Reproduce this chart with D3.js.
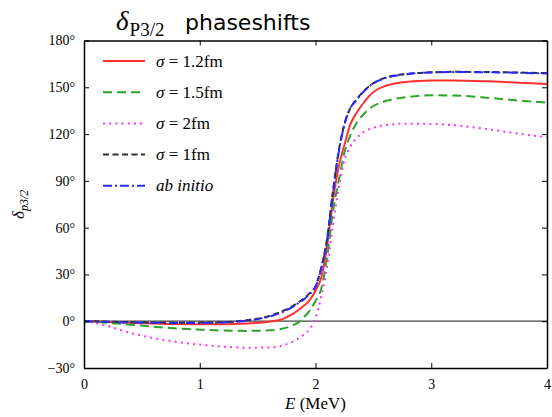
<!DOCTYPE html>
<html>
<head>
<meta charset="utf-8">
<script src="https://cdn.jsdelivr.net/npm/d3@7"></script>
<style>
  html, body { margin: 0; padding: 0; background: #fff; }
  svg { display: block; }
</style>
</head>
<body>
<svg id="chart" width="552" height="417"></svg>
<script>
// Energy grid (MeV)
const energy = [0, 0.1, 0.2, 0.4, 0.6, 0.8, 1.0, 1.2, 1.4, 1.6, 1.7, 1.8, 1.85, 1.9, 1.95, 2.0,
                2.05, 2.1, 2.15, 2.2, 2.25, 2.3, 2.35, 2.4, 2.5, 2.6, 2.8, 3.0, 3.2, 3.5, 3.8, 4.0];

// Phase shifts in degrees for each smearing width
const sigma12 = [0, -0.2, -0.5, -1.0, -1.5, -1.8, -2.0, -2.0, -1.5, -0.3, 0.9, 4.5, 7, 10, 13.5, 19.5,
                 28, 48, 77, 99, 113, 126, 133, 138.5, 147, 150.8, 153.6, 154.3, 154.4, 153.8, 152.8, 152.1];
const sigma15 = [0, -0.4, -1.0, -2.2, -3.5, -4.6, -5.4, -6.0, -6.2, -5.8, -5.0, -2.8, -0.9, 2.5, 6.8, 13,
                 21, 41, 70, 90, 108, 119, 126.5, 131.5, 138, 141, 143.8, 144.9, 144.7, 143.2, 141.2, 140.2];
const sigma2  = [0, -1.2, -3.0, -7.5, -10.8, -13.3, -15.0, -16.3, -17.0, -16.8, -15.9, -13.2, -11.2, -8.5, -5, 2,
                 16, 35, 61, 85, 103, 112, 117, 120.5, 124, 125.8, 126.7, 126.5, 125.6, 123, 119.8, 118];
const sigma1  = [0, -0.1, -0.3, -0.6, -0.8, -0.9, -0.9, -0.6, 0.6, 3.3, 6.0, 9.5, 12, 14.5, 18, 22.5,
                 34.5, 53, 83, 109, 126.5, 136.5, 141.8, 146.3, 152.6, 156, 158.6, 159.6, 159.9, 159.8, 159.4, 159.1];
const abInitio = [0, -0.2, -0.4, -0.8, -1.0, -1.1, -1.1, -0.8, 0.3, 3.0, 5.5, 9.0, 11.5, 14, 17.5, 22,
                  34, 52, 82, 108, 126, 136.5, 141.5, 146, 152.5, 155.8, 158.5, 159.5, 159.8, 159.6, 159.2, 158.8];

const seriesNames = ["σ = 1.2fm", "σ = 1.5fm", "σ = 2fm", "σ = 1fm", "ab initio"];
const seriesValues = [sigma12, sigma15, sigma2, sigma1, abInitio];

const xTicks = [0, 1, 2, 3, 4];
const yTicks = [-30, 0, 30, 60, 90, 120, 150, 180];

const styles = [
  { color: "#ff3030", dash: null },
  { color: "#2aa52a", dash: "9,5" },
  { color: "#ff30ff", dash: "2,4.2" },
  { color: "#303030", dash: "6,3.5" },
  { color: "#2a2aff", dash: "9,3,2,3" }
];

const SERIF = "'Liberation Serif', 'Times New Roman', serif";
const SANS = "'DejaVu Sans', sans-serif";

const svg = d3.select("#chart");
const margin = { left: 84, right: 5, top: 40.5, bottom: 49 };
const W = 552, H = 417;

const x = d3.scaleLinear().domain([0, 4]).range([margin.left, W - margin.right]);
const y = d3.scaleLinear().domain([-30, 180]).range([H - margin.bottom, margin.top]);

// Zero reference line
svg.append("line")
  .attr("x1", x(0)).attr("x2", x(4))
  .attr("y1", y(0)).attr("y2", y(0))
  .attr("stroke", "#444").attr("stroke-width", 1.2);

// Curves
const line = d3.line().x(d => x(d[0])).y(d => y(d[1])).curve(d3.curveMonotoneX);
seriesValues.forEach((vals, i) => {
  const pts = energy.map((e, j) => [e, vals[j]]);
  svg.append("path")
    .datum(pts)
    .attr("d", line)
    .attr("fill", "none")
    .attr("stroke", styles[i].color)
    .attr("stroke-width", 2)
    .attr("stroke-dasharray", styles[i].dash);
});

// Axes with inward ticks on all four sides
const fmtDeg = d => (d < 0 ? "\u2212" + Math.abs(d) : d) + "°";

const xBottom = svg.append("g").attr("transform", `translate(0,${y(-30)})`)
  .call(d3.axisBottom(x).tickValues(xTicks).tickFormat(d => d).tickSizeInner(-5).tickSizeOuter(0).tickPadding(11));
const yLeft = svg.append("g").attr("transform", `translate(${x(0)},0)`)
  .call(d3.axisLeft(y).tickValues(yTicks).tickFormat(fmtDeg).tickSizeInner(-5).tickSizeOuter(0).tickPadding(9));
const xTop = svg.append("g").attr("transform", `translate(0,${y(180)})`)
  .call(d3.axisTop(x).tickValues(xTicks).tickFormat("").tickSizeInner(-5).tickSizeOuter(0));
const yRight = svg.append("g").attr("transform", `translate(${x(4)},0)`)
  .call(d3.axisRight(y).tickValues(yTicks).tickFormat("").tickSizeInner(-5).tickSizeOuter(0));

[xBottom, yLeft, xTop, yRight].forEach(g => {
  g.attr("font-family", SERIF).attr("font-size", 14);
  g.select(".domain").attr("stroke", "#000").attr("stroke-width", 1.5);
  g.selectAll(".tick line").attr("stroke", "#000").attr("stroke-width", 1);
  g.selectAll(".tick text").attr("fill", "#000").style("font-family", SERIF).style("font-size", "14px");
});

// Legend
const legend = svg.append("g");
seriesNames.forEach((name, i) => {
  const ly = 61 + i * 31.2;
  legend.append("line")
    .attr("x1", 103).attr("x2", 145).attr("y1", ly).attr("y2", ly)
    .attr("stroke", styles[i].color).attr("stroke-width", 2)
    .attr("stroke-dasharray", styles[i].dash);
  const t = legend.append("text")
    .attr("x", 156).attr("y", ly + 5.5)
    .style("font-family", SERIF)
    .style("font-size", "17px");
  if (name.startsWith("σ")) {
    t.append("tspan").style("font-style", "italic").text("σ");
    t.append("tspan").text(name.slice(1));
  } else {
    t.style("font-style", "italic").text(name);
  }
});

// Title
const title = svg.append("text").attr("x", 116).attr("y", 30);
title.append("tspan").style("font-family", SERIF).style("font-style", "italic")
  .style("font-size", "27px").text("δ");
title.append("tspan").style("font-family", SERIF).style("font-size", "19px")
  .attr("dy", 6).attr("dx", 1).text("P3/2");
title.append("tspan").style("font-family", SANS).style("font-size", "22px")
  .attr("dy", -6).attr("x", 185).text("phaseshifts");

// Axis labels
const xl = svg.append("text").attr("x", x(2)).attr("y", 409).attr("text-anchor", "middle")
  .style("font-family", SERIF).style("font-size", "17px");
xl.append("tspan").style("font-style", "italic").text("E");
xl.append("tspan").text(" (MeV)");

const yl = svg.append("text").attr("transform", `translate(24,${y(75)}) rotate(-90)`)
  .attr("text-anchor", "middle")
  .style("font-family", SERIF).style("font-style", "italic");
yl.append("tspan").style("font-size", "17px").text("δ");
yl.append("tspan").style("font-size", "12px").attr("dy", 4).text("p3/2");
</script>
</body>
</html>
